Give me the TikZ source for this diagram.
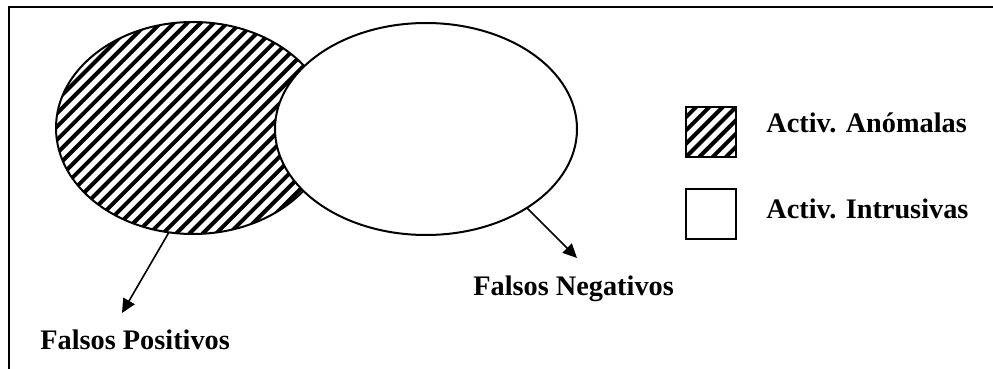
\documentclass[tikz,border=0pt]{standalone}
\usepackage{fontspec}
\setmainfont{Liberation Serif}
\usetikzlibrary{arrows.meta,shapes.geometric}
\tikzset{
  hatched/.style={path picture={
      \foreach \k in {-18,...,22}
        \draw[line width=2pt] ([xshift=\k*6.65pt]path picture bounding box.south west) -- ++(150pt,150pt);}},
  setline/.style={ellipse, draw, line width=1pt, outer sep=0pt, minimum height=106pt},
  legendbox/.style={draw, line width=1pt, minimum size=25pt, inner sep=0pt, outer sep=0pt},
  txt/.style={font=\bfseries\fontsize{14.15}{17}\selectfont, inner sep=0pt, anchor=base west}
}

\begin{document}
\begin{tikzpicture}[x=0.5pt, y=-0.5pt, >={Triangle[length=7pt,width=6.5pt]}]
    \useasboundingbox (0,0) rectangle (993,369);

    % Frame (cut off)
    \draw[line width=1.2pt] (9,369) -- (9,7) -- (993,7);

    % Sets
    \node[setline, hatched, minimum width=137pt] (anom) at (193,128) {};
    \node[setline, fill=white, minimum width=151pt] (intr) at (426,129) {};

    % Legend
    \node[legendbox, hatched] (keyanom) at (711,132) {};
    \node[legendbox] (keyintr) at (711,214.5) {};
    \node[txt] (txtanom) at (766,133) {Activ. Anómalas};
    \node[txt] (txtintr) at (766,219) {Activ. Intrusivas};

    % False positives / negatives
    \coordinate (fpos) at (122,313);
    \coordinate (fneg) at (577,258);
    \draw[->, line width=0.8pt] (anom.257) -- (fpos);
    \draw[->, line width=0.8pt] (intr.322) -- (fneg);
    \node[txt] (falpos) at (40,350) {Falsos Positivos};
    \node[txt] (falneg) at (473,296) {Falsos Negativos};

\end{tikzpicture}
\end{document}
